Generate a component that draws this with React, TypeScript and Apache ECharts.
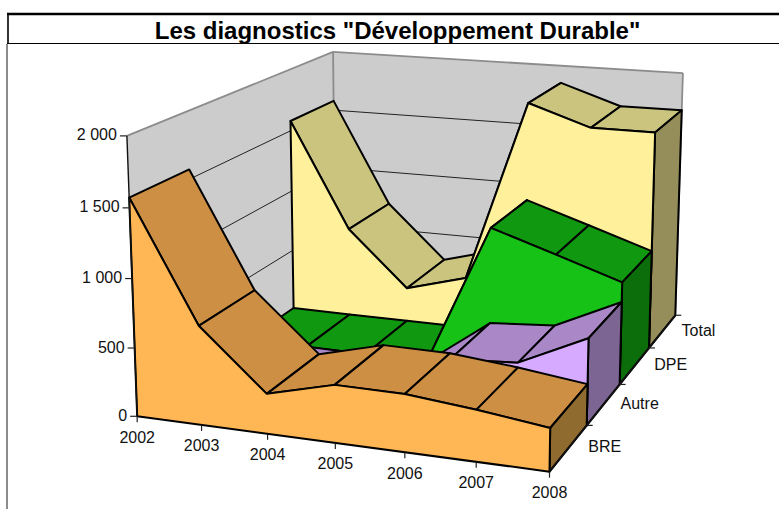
import React, { useEffect, useRef } from "react";
import * as echarts from "echarts";

const years = ["2002", "2003", "2004", "2005", "2006", "2007", "2008"];
const seriesNames = ["BRE", "Autre", "DPE", "Total"];
const breValues = [1572, 715, 287, 411, 408, 361, 299];
const autreValues = [5, 10, 3, 3, 361, 396, 628];
const dpeValues = [8, 5, 5, 5, 1092, 935, 775];
const totalValues = [1580, 724, 278, 413, 1859, 1700, 1700];
const valueTicks = [0, 500, 1000, 1500, 2000];
const valueTickLabels = ["0", "500", "1 000", "1 500", "2 000"];

const FONT = '"Liberation Sans", Arial, sans-serif';
const LABEL_FONT = `16px ${FONT}`;
const MAX_VALUE = 2000;

// Calibration of the 3D box: [year index, depth index, value / 1000, pixel x, pixel y]
const calibration: number[][] = [
  [0, 0, 0, 137, 416], [1, 0, 0, 202, 425], [2, 0, 0, 268, 434], [3, 0, 0, 335, 443],
  [4, 0, 0, 405, 453], [5, 0, 0, 476, 462], [6, 0, 0, 549, 471],
  [6, 1, 0, 587, 425], [6, 2, 0, 620, 385], [6, 3, 0, 649, 348], [6, 4, 0, 675, 315],
  [0, 0, 0.5, 134.5, 348], [0, 0, 1, 132, 278], [0, 0, 1.5, 129.5, 208], [0, 0, 2, 127, 136],
  [0, 4, 2, 333, 52], [6, 4, 2, 683, 73],
];

function fitCamera(): number[] {
  const n = 11;
  const A = Array.from({ length: n }, () => new Array(n + 1).fill(0));
  const add = (r: number[], b: number) => {
    for (let i = 0; i < n; i++) {
      for (let j = 0; j < n; j++) A[i][j] += r[i] * r[j];
      A[i][n] += r[i] * b;
    }
  };
  for (const [x, d, v, u0, w0] of calibration) {
    const u = u0 / 100;
    const w = w0 / 100;
    add([x, d, v, 1, 0, 0, 0, 0, -u * x, -u * d, -u * v], u);
    add([0, 0, 0, 0, x, d, v, 1, -w * x, -w * d, -w * v], w);
  }
  for (let i = 0; i < n; i++) {
    let p = i;
    for (let r = i + 1; r < n; r++) if (Math.abs(A[r][i]) > Math.abs(A[p][i])) p = r;
    [A[i], A[p]] = [A[p], A[i]];
    for (let r = 0; r < n; r++) {
      if (r === i) continue;
      const f = A[r][i] / A[i][i];
      for (let c = i; c <= n; c++) A[r][c] -= f * A[i][c];
    }
  }
  return A.map((r, i) => r[n] / r[i]);
}
const P = fitCamera();
const project = (x: number, d: number, value: number): number[] => {
  const v = value / 1000;
  const w = P[8] * x + P[9] * d + P[10] * v + 1;
  return [
    (100 * (P[0] * x + P[1] * d + P[2] * v + P[3])) / w,
    (100 * (P[4] * x + P[5] * d + P[6] * v + P[7])) / w,
  ];
};

const lastX = years.length - 1;
const lastD = seriesNames.length;

const edgeStyle = { stroke: "#000", lineWidth: 2, lineJoin: "round" };
const poly = (points: number[][], fill: string, z2: number, style: any = edgeStyle) => ({
  type: "polygon",
  z2,
  shape: { points },
  style: { ...style, fill },
});
const seg = (a: number[], b: number[], stroke: string, lineWidth: number, z2 = 0) => ({
  type: "line",
  z2,
  shape: { x1: a[0], y1: a[1], x2: b[0], y2: b[1] },
  style: { stroke, lineWidth },
});
const label = (text: string, x: number, y: number, align: string) => ({
  type: "text",
  style: { text, x, y, font: LABEL_FONT, fill: "#111", align, verticalAlign: "middle" },
});

const ribbons = [
  { name: "Total", values: totalValues, depth: 3, front: "#FFF19C", top: "#CAC47E", side: "#968E5A" },
  { name: "DPE", values: dpeValues, depth: 2, front: "#16C216", top: "#109910", side: "#0B6E0B" },
  { name: "Autre", values: autreValues, depth: 1, front: "#D5AAFF", top: "#AA88C8", side: "#7C6493" },
  { name: "BRE", values: breValues, depth: 0, front: "#FFB655", top: "#CC8F44", side: "#8F6B30" },
];

function ribbonSeries(r: (typeof ribbons)[number], index: number) {
  const { values, depth } = r;
  return {
    type: "custom",
    name: r.name,
    coordinateSystem: "none",
    silent: true,
    z: 5 + index,
    data: values,
    clip: false,
    renderItem: (params: any) => {
      const i = params.dataIndex;
      const children: any[] = [];
      if (i < lastX) {
        children.push(
          poly(
            [
              project(i, depth, values[i]),
              project(i, depth + 1, values[i]),
              project(i + 1, depth + 1, values[i + 1]),
              project(i + 1, depth, values[i + 1]),
            ],
            r.top,
            i,
          ),
        );
      } else {
        children.push(
          poly(
            [
              project(lastX, depth, 0),
              project(lastX, depth + 1, 0),
              project(lastX, depth + 1, values[lastX]),
              project(lastX, depth, values[lastX]),
            ],
            r.side,
            i,
          ),
        );
        const front = values.map((v, x) => project(x, depth, v));
        children.push(poly([project(0, depth, 0), ...front, project(lastX, depth, 0)], r.front, i + 1));
      }
      return { type: "group", children };
    },
  };
}

const wallSeries = {
  type: "custom",
  name: "Walls",
  coordinateSystem: "none",
  silent: true,
  z: 2,
  data: valueTicks,
  renderItem: (params: any) => {
    const value = valueTicks[params.dataIndex];
    const children: any[] = [];
    if (params.dataIndex === 0) {
      const wallStyle = { stroke: "none", lineWidth: 0 };
      children.push(
        poly(
          [project(0, 0, 0), project(0, lastD, 0), project(lastX, lastD, 0), project(lastX, 0, 0)],
          "#CCCCCC",
          0,
          wallStyle,
        ),
        poly(
          [project(0, 0, 0), project(0, lastD, 0), project(0, lastD, MAX_VALUE), project(0, 0, MAX_VALUE)],
          "#CCCCCC",
          0,
          wallStyle,
        ),
        poly(
          [project(0, lastD, 0), project(lastX, lastD, 0), project(lastX, lastD, MAX_VALUE), project(0, lastD, MAX_VALUE)],
          "#CCCCCC",
          0,
          wallStyle,
        ),
      );
      const edge = "#8C8C8C";
      children.push(
        seg(project(0, 0, MAX_VALUE), project(0, lastD, MAX_VALUE), edge, 1.8, 1),
        seg(project(0, lastD, MAX_VALUE), project(lastX, lastD, MAX_VALUE), edge, 1.8, 1),
        seg(project(0, lastD, 0), project(0, lastD, MAX_VALUE), edge, 1.8, 1),
        seg(project(lastX, lastD, 0), project(lastX, lastD, MAX_VALUE), edge, 1.8, 1),
      );
    } else if (value < MAX_VALUE) {
      children.push(
        seg(project(0, 0, value), project(0, lastD, value), "#222", 1, 2),
        seg(project(0, lastD, value), project(lastX, lastD, value), "#222", 1, 2),
      );
    }
    return { type: "group", children };
  },
};

const valueAxisSeries = {
  type: "custom",
  name: "Value axis",
  coordinateSystem: "none",
  silent: true,
  z: 12,
  data: valueTicks,
  renderItem: (params: any) => {
    const i = params.dataIndex;
    const p = project(0, 0, valueTicks[i]);
    const children: any[] = [
      seg([p[0] - 7, p[1]], p, "#222", 1.2),
      label(valueTickLabels[i], p[0] - 10, p[1] - 1, "right"),
    ];
    if (i === 0) children.push(seg(p, project(0, 0, MAX_VALUE), "#111", 1.4));
    return { type: "group", children };
  },
};

const yearAxisSeries = {
  type: "custom",
  name: "Year axis",
  coordinateSystem: "none",
  silent: true,
  z: 12,
  data: years,
  renderItem: (params: any) => {
    const i = params.dataIndex;
    const p = project(i, 0, 0);
    return {
      type: "group",
      children: [seg(p, [p[0], p[1] + 6], "#222", 1.2), label(years[i], p[0], p[1] + 21, "center")],
    };
  },
};

const depthAxisSeries = {
  type: "custom",
  name: "Depth axis",
  coordinateSystem: "none",
  silent: true,
  z: 12,
  data: seriesNames,
  renderItem: (params: any) => {
    const i = params.dataIndex;
    const tick = project(lastX, i + 1, 0);
    const mid = project(lastX, i + 0.5, 0);
    const children: any[] = [
      seg(tick, [tick[0] + 6, tick[1]], "#222", 1.2),
      label(seriesNames[i], mid[0] + 36, mid[1] - 1, "center"),
    ];
    if (i === 0) children.push(seg(project(lastX, 0, 0), project(lastX, lastD, 0), "#111", 2));
    return { type: "group", children };
  },
};

export default function App() {
  const ref = useRef<HTMLDivElement>(null);
  useEffect(() => {
    document.body.style.margin = "0";
    const chart = echarts.init(ref.current as HTMLDivElement, undefined, { renderer: "svg" });
    chart.setOption({
      animation: false,
      backgroundColor: "#fff",
      title: {
        text: 'Les diagnostics "Développement Durable"',
        left: 392.5,
        top: 13,
        textAlign: "center",
        textStyle: { fontFamily: FONT, fontSize: 24, fontWeight: "bold", color: "#000" },
      },
      graphic: [
        { type: "line", shape: { x1: 7, y1: 14, x2: 779, y2: 14 }, style: { stroke: "#000", lineWidth: 2.4 } },
        { type: "line", shape: { x1: 8, y1: 13, x2: 8, y2: 43 }, style: { stroke: "#000", lineWidth: 1.6 } },
        { type: "line", shape: { x1: 7, y1: 43.5, x2: 779, y2: 43.5 }, style: { stroke: "#000", lineWidth: 1 } },
        { type: "line", shape: { x1: 7, y1: 44, x2: 7, y2: 509 }, style: { stroke: "#8C8C8C", lineWidth: 2 } },
      ],
      series: [
        wallSeries,
        ...ribbons.map((r, i) => ribbonSeries(r, i)),
        valueAxisSeries,
        yearAxisSeries,
        depthAxisSeries,
      ],
    });
    return () => chart.dispose();
  }, []);
  return <div ref={ref} style={{ position: "fixed", left: 0, top: 0, width: 779, height: 509 }} />;
}
